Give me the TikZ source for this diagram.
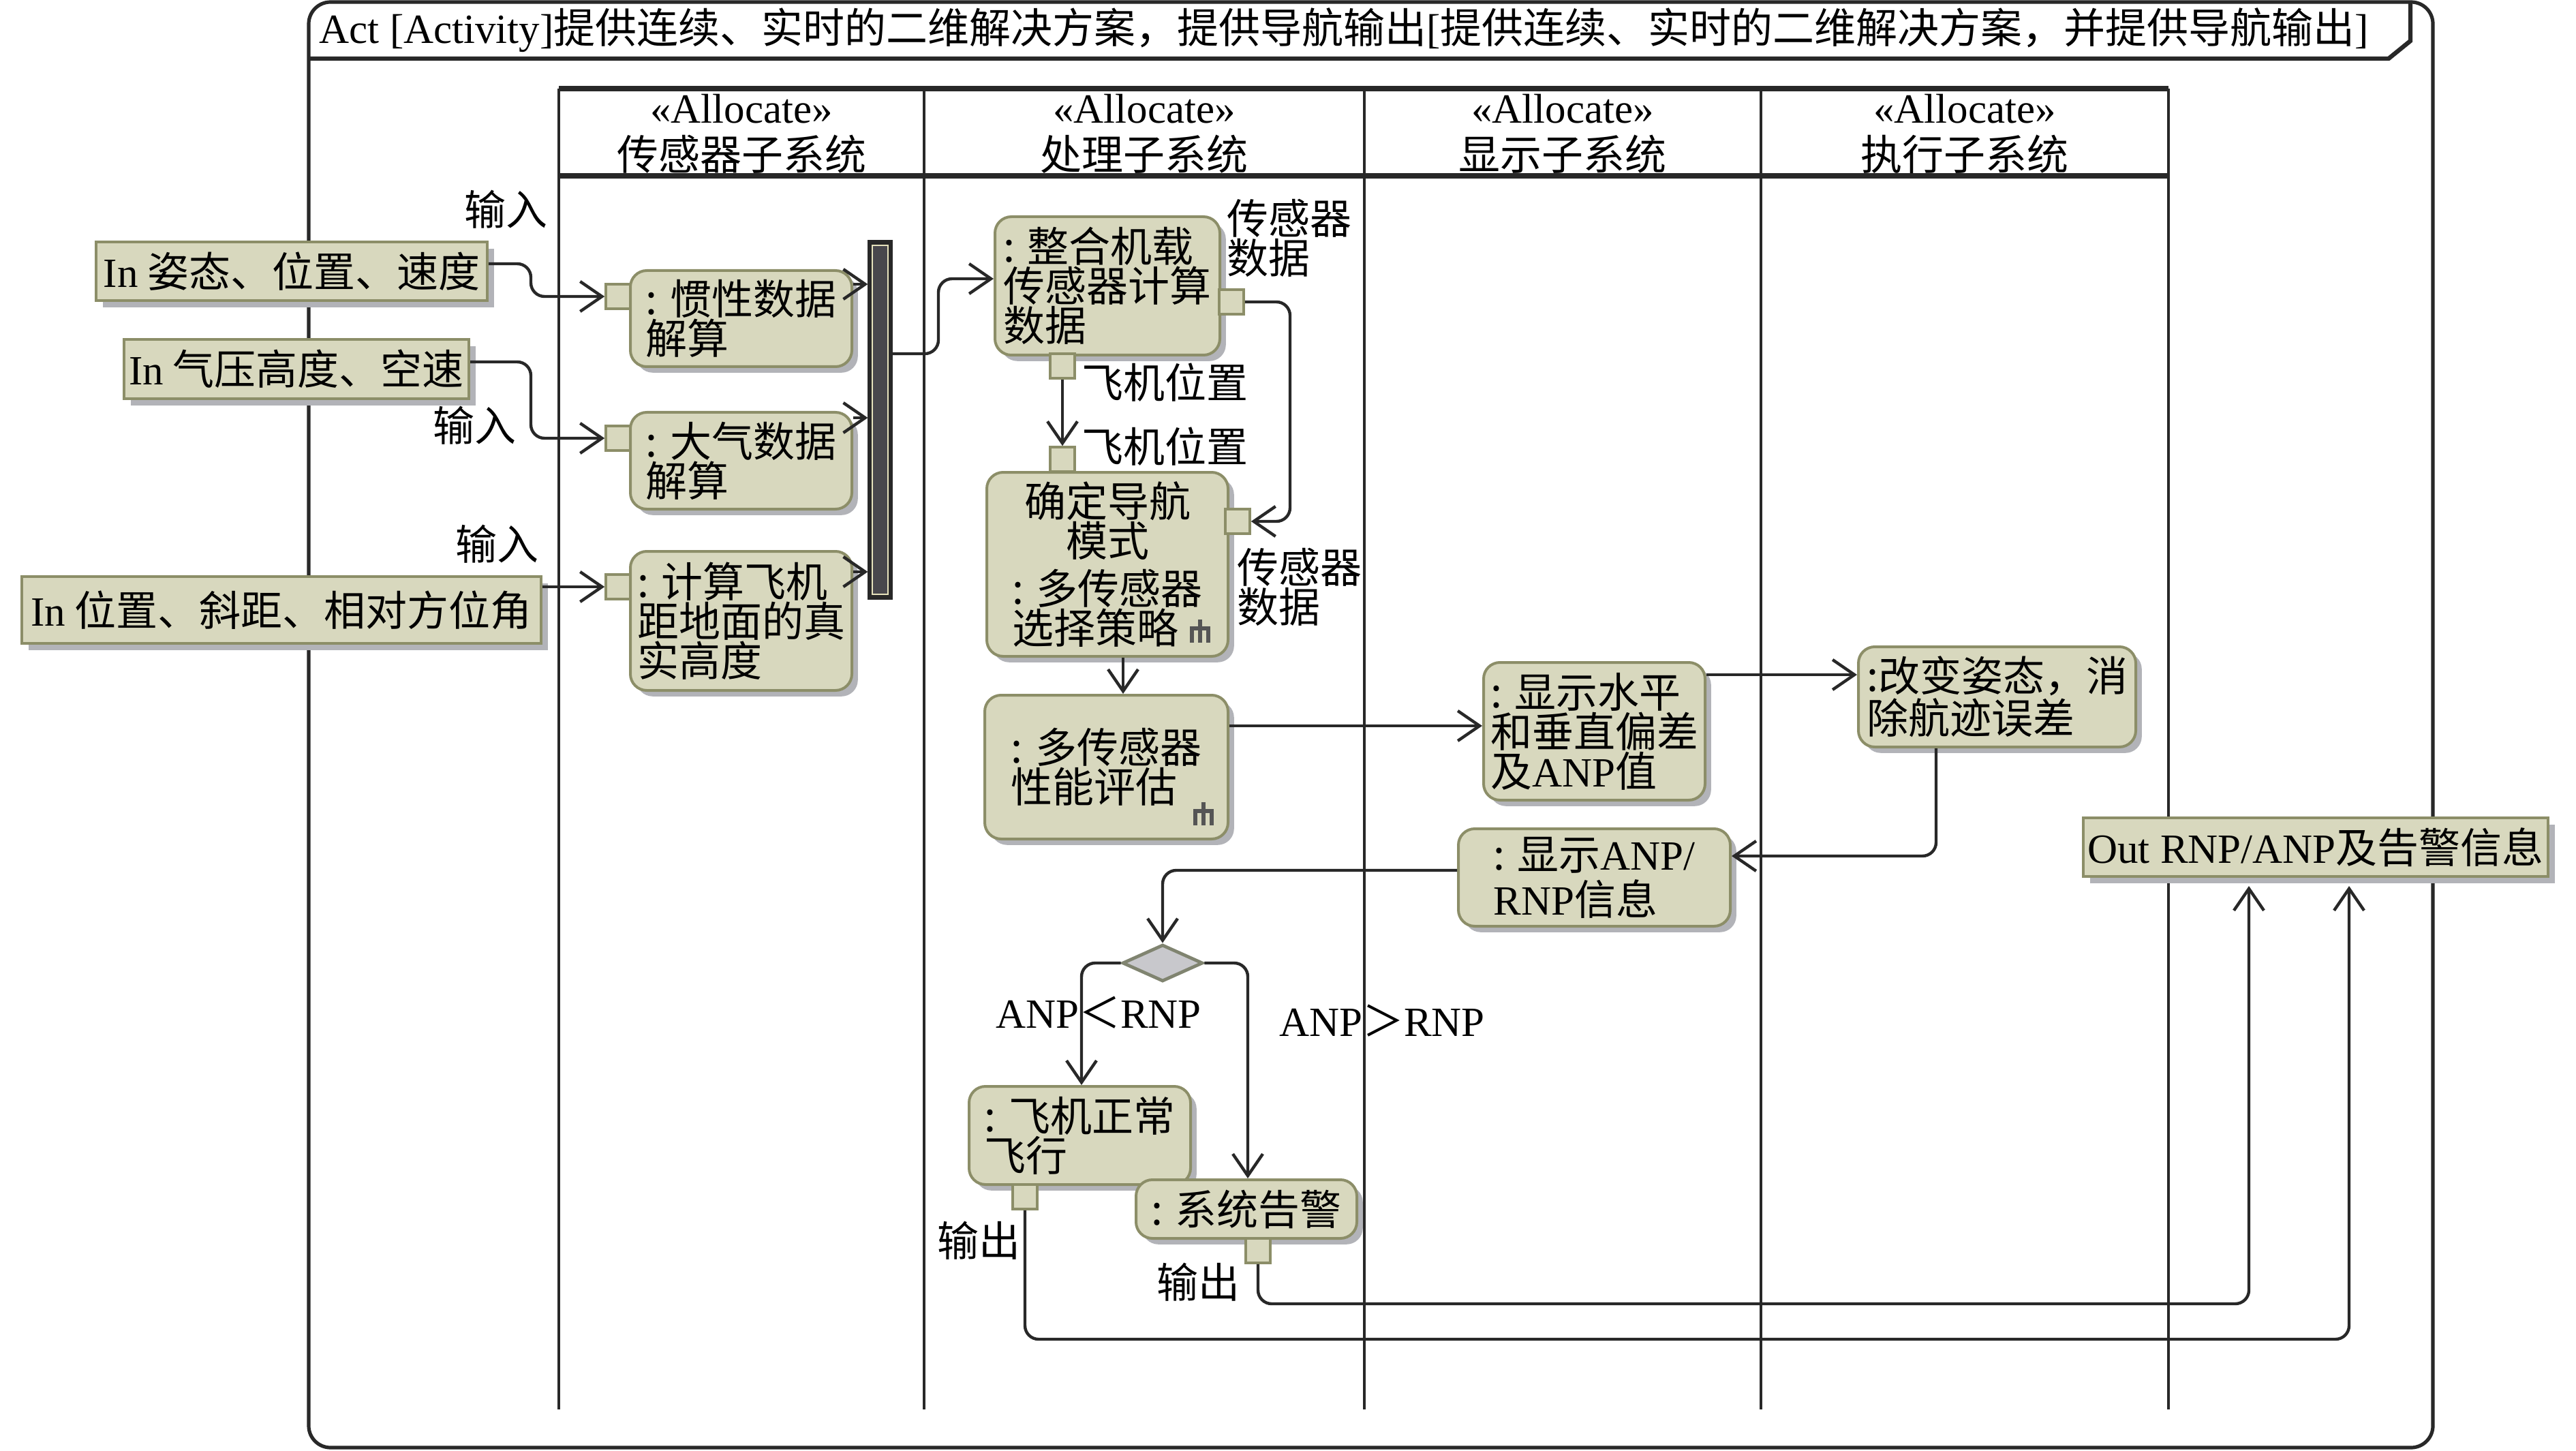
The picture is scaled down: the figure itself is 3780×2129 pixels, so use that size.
\documentclass[tikz,border=0pt]{standalone}
\usepackage{fontspec}
\usepackage{calc}
\setmainfont{Noto Sans CJK SC}
\newfontfamily\latf{Liberation Serif}
\newcommand\lat[1]{{\latf #1}}
\usetikzlibrary{arrows.meta,shapes.geometric,shadows}
\definecolor{actfill}{RGB}{216,216,190}
\definecolor{actdraw}{RGB}{140,142,104}
\definecolor{shadowc}{RGB}{178,179,184}
\definecolor{linec}{RGB}{40,40,40}
\definecolor{barfill}{RGB}{72,71,76}
\definecolor{barline}{RGB}{230,226,188}
\definecolor{decfill}{RGB}{200,200,204}
\definecolor{decdraw}{RGB}{128,132,112}
\definecolor{rakec}{RGB}{85,85,85}
\tikzset{
  actbox/.style={draw=actdraw, fill=actfill, line width=1pt, rounded corners=6pt, align=left, inner sep=0pt,
    drop shadow={shadow xshift=2.2pt, shadow yshift=-2.2pt, fill=shadowc, opacity=1}},
  iobox/.style={draw=actdraw, fill=actfill, line width=1pt, inner sep=0pt,
    drop shadow={shadow xshift=2.5pt, shadow yshift=-2.5pt, fill=shadowc, opacity=1}},
  pinbox/.style={draw=actdraw, fill=actfill, line width=0.9pt, minimum width=9pt, minimum height=9pt, inner sep=0pt},
  conn/.style={draw=linec, line width=1.1pt, rounded corners=5pt},
  arr/.style={conn, -{Straight Barb[length=8pt,width=11pt,line width=1.1pt]}},
  lbl/.style={inner sep=0pt, text=black},
  lane/.style={draw=linec, line width=1pt},
}
% #2 name, #3 x1, #4 y1, #5 x2, #6 y2, #7 text
\newcommand\actnode[7][]{\node[actbox,#1,minimum width={(#5-#3)*0.25pt},minimum height={(#6-#4)*0.25pt}] (#2) at ({(#3+#5)/2},{(#4+#6)/2}) {#7};}
\newcommand\ionode[6]{\node[iobox,minimum width={(#4-#2)*0.25pt},minimum height={(#5-#3)*0.25pt}] (#1) at ({(#2+#4)/2},{(#3+#5)/2}) {#6};}
\newcommand\rakeicon[2]{\begin{scope}[shift={(#1,#2)}]
  \draw[rakec, line width=1.5pt] (15,0) -- (15,13) (0,13) -- (30,13) (3,13) -- (3,34) (15,13) -- (15,34) (27,13) -- (27,34);
\end{scope}}
\begin{document}
\begin{tikzpicture}[x=0.25pt, y=-0.25pt, font=\fontsize{15.25pt}{14.5pt}\selectfont]
\useasboundingbox (0,0) rectangle (3780,2129);
% frame
\draw[draw=linec, line width=1.3pt, rounded corners=8pt] (453,3) rectangle (3570,2124);
\draw[draw=linec, line width=1.6pt] (453,86) -- (3505,86) -- (3537,60) -- (3537,3);
\node[lbl, anchor=west] (title) at (468,44) {\lat{Act [Activity]}提供连续、实时的二维解决方案，提供导航输出\lat{[}提供连续、实时的二维解决方案，并提供导航输出\lat{]}};
% lanes
\foreach \x in {820,1356,2002,2584,3182} \draw[lane] (\x,130) -- (\x,2068);
\draw[draw=linec, line width=2pt] (820,130) -- (3182,130);
\draw[draw=linec, line width=2pt] (820,258) -- (3182,258);
\node[lbl] (h1s) at (1088,160) {\lat{«Allocate»}};
\node[lbl] (h1) at (1088,226) {传感器子系统};
\node[lbl] (h2s) at (1679,160) {\lat{«Allocate»}};
\node[lbl] (h2) at (1679,226) {处理子系统};
\node[lbl] (h3s) at (2293,160) {\lat{«Allocate»}};
\node[lbl] (h3) at (2293,226) {显示子系统};
\node[lbl] (h4s) at (2883,160) {\lat{«Allocate»}};
\node[lbl] (h4) at (2883,226) {执行子系统};
% input / output pins
\ionode{in1}{141}{355}{715}{441}{\lat{In} 姿态、位置、速度}
\ionode{in2}{182}{498}{688}{585}{\lat{In} 气压高度、空速}
\ionode{in3}{32}{846}{794}{944}{\lat{In} 位置、斜距、相对方位角}
\ionode{outp}{3057}{1200}{3739}{1286}{\lat{Out RNP/ANP}及告警信息}
% actions
\actnode{a1}{925}{397}{1250}{538}{: 惯性数据\\解算}
\actnode{a2}{925}{605}{1250}{747}{: 大气数据\\解算}
\actnode{a3}{925}{809}{1250}{1013}{: 计算飞机\\距地面的真\\实高度}
\actnode{a4}{1460}{318}{1790}{521}{: 整合机载\\传感器计算\\数据}
\actnode[align=center]{a5}{1448}{693}{1802}{963}{确定导航\\模式\\[3pt]\makebox[\widthof{: 多传感器}][l]{: 多传感器}\\\makebox[\widthof{: 多传感器}][l]{选择策略}}
\actnode{a6}{1445}{1020}{1802}{1231}{: 多传感器\\性能评估}
\actnode{a7}{2177}{972}{2502}{1174}{: 显示水平\\和垂直偏差\\及\lat{ANP}值}
\actnode{a8}{2727}{949}{3134}{1096}{:改变姿态，消\\除航迹误差}
\actnode{a9}{2140}{1216}{2539}{1359}{: 显示\lat{ANP/}\\[2pt]\lat{RNP}信息}
\actnode{a10}{1422}{1594}{1747}{1738}{: 飞机正常\\飞行}
\actnode{a11}{1667}{1731}{1991}{1817}{: 系统告警}
\rakeicon{1746}{909}
\rakeicon{1751}{1177}
% pins on actions
\node[pinbox] (p1) at (907,435) {};
\node[pinbox] (p2) at (907,643) {};
\node[pinbox] (p3) at (907,861) {};
\node[pinbox] (p4r) at (1807,443) {};
\node[pinbox] (p4b) at (1559,537) {};
\node[pinbox] (p5t) at (1559,674) {};
\node[pinbox] (p5r) at (1816,765) {};
\node[pinbox] (p10) at (1504,1756) {};
\node[pinbox] (p11) at (1846,1835) {};
% fork bar
\node[draw=linec, fill=linec, line width=0.8pt, minimum width={33*0.25pt}, minimum height={524*0.25pt}, inner sep=0pt] (bar) at (1291.5,616) {};
\draw[draw=barline, fill=barfill, line width=0.4pt] (1280,360) rectangle (1303,872);
% decision
\node[diamond, draw=decdraw, fill=decfill, line width=1.2pt, minimum width=29.5pt, minimum height=13.5pt, inner sep=0pt] (dec) at (1706,1413) {};
% labels
\node[lbl] (l1) at (742,307) {输入};
\node[lbl] (l2) at (696,624) {输入};
\node[lbl] (l3) at (729,798) {输入};
\node[lbl, anchor=west] (l4) at (1587,561) {飞机位置};
\node[lbl, anchor=west] (l5) at (1587,655) {飞机位置};
\node[lbl, anchor=west, align=left] (l6) at (1800,349) {传感器\\数据};
\node[lbl, anchor=west, align=left] (l7) at (1815,861) {传感器\\数据};
\node[lbl] (l8) at (1436,1820) {输出};
\node[lbl] (l9) at (1758,1881) {输出};
\node[lbl] (l10) at (1612,1486) {\lat{ANP}＜\lat{RNP}};
\node[lbl] (l11) at (2028,1498) {\lat{ANP}＞\lat{RNP}};
\coordinate (o1) at (3447,1300);
\coordinate (o2) at (3300,1300);
% connectors
\draw[arr] (in1.east |- 0,387) -- (779,387) -- (779,435) -- (p1.west);
\draw[arr] (in2.east |- 0,531) -- (779,531) -- (779,643) -- (p2.west);
\draw[arr] (in3.east |- p3.west) -- (p3.west);
\draw[arr] (a1.east |- 0,417) -- (bar.west |- 0,417);
\draw[arr] (a2.east |- 0,613) -- (bar.west |- 0,613);
\draw[arr] (a3.east |- 0,839) -- (bar.west |- 0,839);
\draw[arr] (bar.east |- 0,519) -- (1377,519) -- (1377,409) -- (a4.west |- 0,409);
\draw[arr] (p4b.south) -- (p5t.north);
\draw[arr] (p4r.east) -- (1893,443) -- (1893,765) -- (p5r.east);
\draw[arr] (a5.south -| 1648,0) -- (a6.north -| 1648,0);
\draw[arr] (a6.east |- 0,1065) -- (a7.west |- 0,1065);
\draw[arr] (a7.east |- 0,990) -- (a8.west |- 0,990);
\draw[arr] (a8.south -| 2841,0) -- (2841,1256) -- (a9.east |- 0,1256);
\draw[arr] (a9.west |- 0,1277) -- (1706,1277) -- (dec.north);
\draw[arr] (dec.west) -- (1587,1413) -- (a10.north -| 1587,0);
\draw[arr] (dec.east) -- (1831,1413) -- (a11.north -| 1831,0);
\draw[arr] (p10.south) -- (1504,1965) -- (3447,1965) -- (o1);
\draw[arr] (p11.south) -- (1846,1913) -- (3300,1913) -- (o2);
\end{tikzpicture}
\end{document}
